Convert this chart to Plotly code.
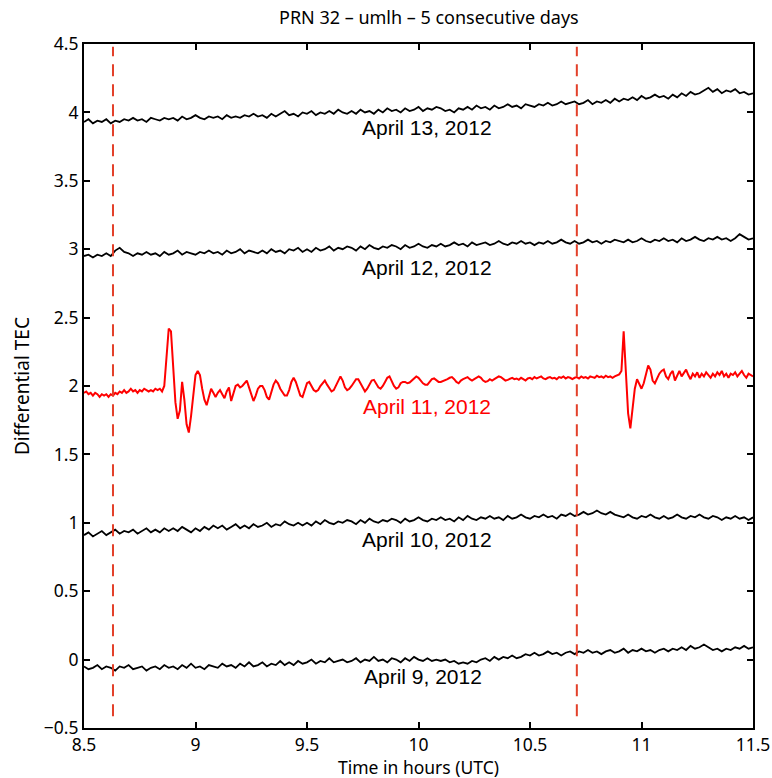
import numpy as np
import plotly.graph_objects as go

# ---------------- data ----------------
t_start = 8.5
step_black = 0.02
step_red = 0.01

apr9 = [
    -0.05, -0.07, -0.06, -0.04, -0.07, -0.05, -0.06, -0.08, -0.05, -0.06,
    -0.04, -0.07, -0.06, -0.05, -0.08, -0.06, -0.05, -0.07, -0.04, -0.06,
    -0.05, -0.07, -0.04, -0.06, -0.03, -0.06, -0.05, -0.07, -0.04, -0.05,
    -0.06, -0.03, -0.05, -0.04, -0.06, -0.03, -0.05, -0.02, -0.05, -0.04,
    -0.02, -0.05, -0.03, -0.04, -0.01, -0.04, -0.02, -0.04, -0.01, -0.03,
    -0.02, 0.00, -0.03, -0.01, -0.02, 0.01, -0.02, -0.01, 0.00, -0.02,
    -0.01, 0.01, -0.02, 0.00, -0.01, 0.02, -0.01, 0.00, -0.02, 0.01,
    0.00, -0.02, 0.01, -0.01, 0.02, 0.00, -0.01, 0.01, -0.01, 0.00,
    -0.01, 0.00, -0.02, -0.01, -0.03, -0.02, -0.03, -0.01, -0.02, 0.00,
    0.01, -0.01, 0.02, 0.00, 0.02, 0.01, 0.03, 0.01, 0.02, 0.04,
    0.03, 0.05, 0.03, 0.04, 0.06, 0.04, 0.05, 0.03, 0.05, 0.06,
    0.04, 0.06, 0.05, 0.07, 0.05, 0.06, 0.04, 0.06, 0.07, 0.05,
    0.06, 0.08, 0.05, 0.07, 0.06, 0.08, 0.06, 0.07, 0.05, 0.07,
    0.08, 0.06, 0.08, 0.07, 0.09, 0.07, 0.10, 0.08, 0.09, 0.11,
    0.09, 0.07, 0.08, 0.06, 0.08, 0.07, 0.09, 0.08, 0.10, 0.08,
    0.09,
]

apr10 = [
    0.91, 0.93, 0.90, 0.92, 0.94, 0.91, 0.93, 0.95, 0.92, 0.94,
    0.93, 0.95, 0.92, 0.94, 0.96, 0.93, 0.95, 0.93, 0.96, 0.94,
    0.96, 0.94, 0.97, 0.95, 0.93, 0.96, 0.94, 0.97, 0.95, 0.98,
    0.96, 0.98, 0.95, 0.97, 0.99, 0.96, 0.98, 0.96, 0.99, 0.97,
    0.98, 1.00, 0.97, 0.99, 0.98, 1.01, 0.99, 0.98, 1.00, 0.98,
    1.00, 0.98, 1.01, 0.99, 1.02, 1.00, 0.99, 1.01, 1.00, 1.02,
    1.01, 0.99, 1.02, 1.00, 1.03, 1.01, 1.00, 1.02, 1.01, 1.03,
    1.02, 1.00, 1.03, 1.01, 1.02, 1.04, 1.02, 1.01, 1.03, 1.02,
    1.04, 1.02, 1.03, 1.01, 1.04, 1.02, 1.05, 1.03, 1.02, 1.04,
    1.03, 1.05, 1.03, 1.04, 1.02, 1.05, 1.03, 1.04, 1.06, 1.04,
    1.03, 1.05, 1.04, 1.06, 1.04, 1.05, 1.03, 1.06, 1.05, 1.07,
    1.05, 1.06, 1.08, 1.06, 1.07, 1.09, 1.07, 1.06, 1.08, 1.06,
    1.05, 1.04, 1.06, 1.04, 1.03, 1.05, 1.04, 1.06, 1.04, 1.03,
    1.05, 1.03, 1.04, 1.06, 1.04, 1.03, 1.05, 1.04, 1.06, 1.04,
    1.03, 1.05, 1.04, 1.02, 1.04, 1.03, 1.05, 1.03, 1.04, 1.02,
    1.04,
]

apr12 = [
    2.95, 2.96, 2.94, 2.96, 2.95, 2.97, 2.95, 2.99, 3.01, 2.98,
    2.97, 2.95, 2.97, 2.96, 2.98, 2.96, 2.97, 2.95, 2.98, 2.96,
    2.97, 2.99, 2.96, 2.98, 2.97, 2.96, 2.98, 2.97, 2.99, 2.97,
    2.98, 2.96, 2.99, 2.97, 2.98, 3.00, 2.97, 2.99, 2.98, 2.97,
    2.99, 2.97, 3.00, 2.98, 2.99, 2.97, 3.00, 2.99, 3.01, 2.98,
    3.00, 2.98, 3.01, 2.99, 3.00, 3.02, 2.99, 3.01, 3.00, 3.02,
    3.01, 2.99, 3.02, 3.00, 3.03, 3.01, 3.00, 3.02, 3.01, 3.03,
    3.02, 3.00, 3.03, 3.01, 3.02, 3.04, 3.02, 3.01, 3.03, 3.02,
    3.04, 3.02, 3.03, 3.05, 3.03, 3.04, 3.02, 3.05, 3.03, 3.04,
    3.05, 3.03, 3.04, 3.06, 3.04, 3.03, 3.05, 3.04, 3.06, 3.04,
    3.05, 3.03, 3.05, 3.04, 3.06, 3.04, 3.05, 3.07, 3.05, 3.04,
    3.06, 3.04, 3.05, 3.07, 3.05, 3.06, 3.04, 3.06, 3.05, 3.07,
    3.06, 3.05, 3.07, 3.05, 3.06, 3.08, 3.06, 3.05, 3.07, 3.06,
    3.08, 3.06, 3.07, 3.05, 3.08, 3.06, 3.07, 3.09, 3.07, 3.06,
    3.08, 3.07, 3.09, 3.07, 3.08, 3.06, 3.08, 3.11, 3.09, 3.07,
    3.08,
]

apr13 = [
    3.93, 3.95, 3.92, 3.94, 3.93, 3.95, 3.92, 3.94, 3.93, 3.95,
    3.94, 3.96, 3.94, 3.95, 3.93, 3.96, 3.95, 3.94, 3.96, 3.95,
    3.96, 3.94, 3.97, 3.95, 3.96, 3.98, 3.96, 3.95, 3.97, 3.96,
    3.97, 3.95, 3.98, 3.96, 3.97, 3.96, 3.98, 3.97, 3.99, 3.97,
    3.98, 3.96, 3.99, 3.97, 3.99, 4.01, 3.98, 3.99, 3.97, 4.00,
    3.99, 4.01, 3.98, 4.00, 3.99, 4.01, 3.99, 4.02, 4.00, 3.99,
    4.01, 3.99, 4.02, 4.00, 4.01, 3.99, 4.02, 4.00, 4.03, 4.01,
    4.02, 4.00, 4.03, 4.01, 4.02, 4.04, 4.01, 4.03, 4.02, 4.04,
    4.03, 4.01, 4.02, 4.00, 4.03, 4.02, 4.04, 4.02, 4.05, 4.03,
    4.04, 4.02, 4.05, 4.03, 4.04, 4.06, 4.04, 4.05, 4.03, 4.06,
    4.05, 4.04, 4.06, 4.05, 4.07, 4.05, 4.06, 4.08, 4.06, 4.07,
    4.08, 4.06, 4.07, 4.09, 4.06, 4.08, 4.07, 4.09, 4.07, 4.10,
    4.08, 4.10, 4.09, 4.11, 4.09, 4.12, 4.10, 4.11, 4.13, 4.11,
    4.12, 4.10, 4.13, 4.11, 4.14, 4.12, 4.15, 4.13, 4.14, 4.16,
    4.18, 4.15, 4.17, 4.14, 4.16, 4.15, 4.17, 4.14, 4.15, 4.13,
    4.14,
]

apr11 = [
    1.95, 1.96, 1.94, 1.95, 1.93, 1.95, 1.94, 1.92, 1.94, 1.93,
    1.94, 1.92, 1.94, 1.93, 1.95, 1.94, 1.96, 1.95, 1.97, 1.95,
    1.96, 1.98, 1.96, 1.97, 1.95, 1.97, 1.96, 1.98, 1.97, 1.96,
    1.97, 1.96, 1.98, 1.97, 1.98, 1.96, 2.00, 2.18, 2.42, 2.40,
    2.15, 1.88, 1.76, 1.82, 2.03, 1.90, 1.72, 1.66, 1.78, 1.95,
    2.08, 2.11, 2.08, 1.98, 1.90, 1.86, 1.92, 1.98, 1.95, 1.92,
    1.95, 1.97, 1.94, 1.91, 1.96, 1.99, 1.89, 1.94, 2.00, 2.01,
    1.99, 2.00, 2.02, 2.04, 1.99, 1.93, 1.89, 1.93, 1.98, 2.00,
    2.00, 1.97, 1.92, 1.90, 1.96, 2.01, 2.04, 2.02, 1.98, 1.95,
    1.93, 1.93, 1.97, 2.03, 2.06, 2.03, 1.97, 1.93, 1.92, 1.97,
    2.02, 2.03, 2.00, 1.97, 1.96, 1.97, 2.00, 2.02, 2.04, 2.01,
    1.98, 1.96, 1.97, 2.00, 2.04, 2.07, 2.04, 1.99, 1.97, 1.98,
    2.00, 2.03, 2.05, 2.05, 2.02, 1.98, 1.96, 1.98, 2.01, 2.04,
    2.045, 2.02, 1.99, 1.98, 2.00, 2.03, 2.06, 2.07, 2.03, 2.00,
    1.98, 1.99, 2.02, 2.03, 2.03, 2.02, 2.025, 2.04, 2.06, 2.07,
    2.06, 2.04, 2.02, 2.01, 2.01, 2.03, 2.05, 2.055, 2.04, 2.03,
    2.03, 2.035, 2.04, 2.05, 2.06, 2.065, 2.05, 2.03, 2.02, 2.04,
    2.05, 2.06, 2.065, 2.05, 2.04, 2.05, 2.06, 2.07, 2.06, 2.04,
    2.03, 2.035, 2.05, 2.04, 2.05, 2.06, 2.07, 2.065, 2.05, 2.04,
    2.045, 2.05, 2.06, 2.05, 2.055, 2.045, 2.06, 2.05, 2.04, 2.055,
    2.06, 2.05, 2.065, 2.055, 2.06, 2.07, 2.055, 2.05, 2.06, 2.065,
    2.055, 2.06, 2.05, 2.065, 2.06, 2.07, 2.055, 2.065, 2.06, 2.05,
    2.06, 2.065, 2.055, 2.07, 2.06, 2.065, 2.055, 2.07, 2.065, 2.06,
    2.075, 2.065, 2.07, 2.06, 2.075, 2.065, 2.07, 2.06, 2.07, 2.08,
    2.085, 2.11, 2.40, 2.10, 1.80, 1.69, 1.85, 1.98, 2.05, 2.01,
    1.98, 2.02, 2.08, 2.15, 2.12, 2.04, 2.02, 2.06, 2.09, 2.11,
    2.12, 2.07, 2.05, 2.09, 2.11, 2.04, 2.08, 2.11, 2.07, 2.10,
    2.12, 2.08, 2.05, 2.09, 2.07, 2.10, 2.06, 2.09, 2.07, 2.10,
    2.08, 2.06, 2.09, 2.07, 2.10, 2.08, 2.11, 2.07, 2.09, 2.06,
    2.09, 2.08, 2.10, 2.07, 2.09, 2.11, 2.08, 2.06, 2.09, 2.08,
    2.07,
]

event_times = [8.63, 10.71]

day_labels = ["April 9, 2012", "April 10, 2012", "April 11, 2012",
              "April 12, 2012", "April 13, 2012"]

x_ticks = [8.5, 9, 9.5, 10, 10.5, 11, 11.5]
y_ticks = [-0.5, 0, 0.5, 1, 1.5, 2, 2.5, 3, 3.5, 4, 4.5]

# ---------------- figure ----------------
t_black = np.round(t_start + step_black * np.arange(len(apr9)), 4)
t_red = np.round(t_start + step_red * np.arange(len(apr11)), 4)

fig = go.Figure()
for series in (apr9, apr10, apr12, apr13):
    fig.add_trace(go.Scatter(x=t_black, y=series, mode="lines",
                             line=dict(color="black", width=1.8),
                             showlegend=False, hoverinfo="skip"))
fig.add_trace(go.Scatter(x=t_red, y=apr11, mode="lines",
                         line=dict(color="#ff0000", width=2),
                         showlegend=False, hoverinfo="skip"))

for et in event_times:
    fig.add_shape(type="line", xref="x", yref="paper", x0=et, x1=et,
                  y0=0.017, y1=0.996,
                  line=dict(color="#e3402a", width=2, dash="12px,8px"))

label_x = [10.02, 10.04, 10.04, 10.04, 10.04]
label_y = [-0.125, 0.88, 1.85, 2.865, 3.89]
label_color = ["black", "black", "#ff0000", "black", "black"]
for txt, lx, ly, lc in zip(day_labels, label_x, label_y, label_color):
    fig.add_annotation(x=lx, y=ly, xref="x", yref="y", text=txt,
                       showarrow=False,
                       font=dict(family="Liberation Sans, Arial", size=21, color=lc))

axis_font = dict(family="Noto Sans, Open Sans", size=17.5, color="black")
title_font = dict(family="Noto Sans, Open Sans", size=17.5, color="black")
fig.update_xaxes(range=[8.5, 11.5], tickvals=x_ticks,
                 ticktext=[f"{v:g}" for v in x_ticks],
                 ticks="inside", ticklen=6, tickwidth=1.5, tickcolor="black",
                 showline=True, linecolor="black", linewidth=2, mirror="ticks",
                 showgrid=False, zeroline=False, tickfont=axis_font,
                 ticklabeloverflow="allow", automargin=False)
fig.update_yaxes(range=[-0.5, 4.5], tickvals=y_ticks,
                 ticktext=[(f"{v:g}").replace("-", "\u2212") for v in y_ticks],
                 ticks="inside", ticklen=6, tickwidth=1.5, tickcolor="black",
                 showline=True, linecolor="black", linewidth=2, mirror="ticks",
                 showgrid=False, zeroline=False, tickfont=axis_font,
                 automargin=False)

fig.add_annotation(xref="paper", yref="paper", x=0.5, y=0, yshift=-52,
                   text="Time in hours (UTC)", showarrow=False,
                   yanchor="bottom", borderpad=0, font=title_font)
fig.add_annotation(xref="paper", yref="paper", x=0, y=0.5, xshift=-62,
                   text="Differential TEC", showarrow=False, textangle=-90,
                   xanchor="center", font=dict(family="Noto Sans, Open Sans", size=19, color="black"))
fig.add_annotation(xref="paper", yref="paper", x=0.515, y=1, yshift=27,
                   text="PRN 32 \u2013 umlh \u2013 5 consecutive days",
                   showarrow=False, yanchor="middle",
                   font=dict(family="Noto Sans, Open Sans", size=18, color="black"))

fig.update_layout(width=772, height=778,
                  margin=dict(l=84, r=19, t=44, b=50, autoexpand=False),
                  paper_bgcolor="white", plot_bgcolor="white")

fig.write_html("out.html")
